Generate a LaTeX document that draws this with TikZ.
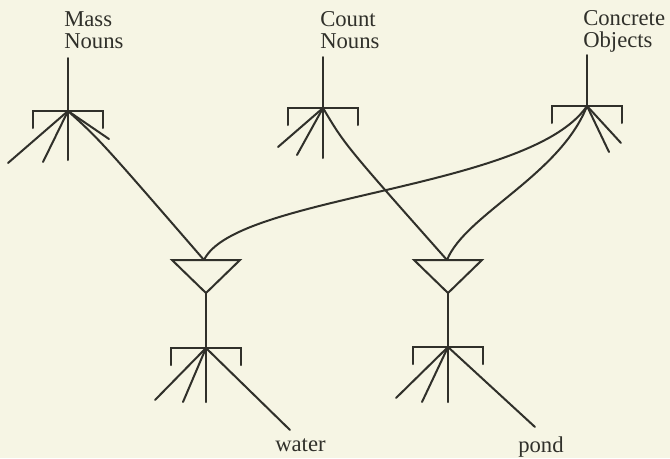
\documentclass[tikz,border=0pt]{standalone}
\usepackage{fontspec}
\setmainfont{Liberation Serif}
\definecolor{Papel}{RGB}{246,245,228}
\definecolor{Tinta}{RGB}{48,48,42}
\tikzset{%
  ln/.style      ={draw=Tinta, line width=1.5pt, line cap=round},
  etiq/.style    ={text=Tinta, align=left, inner sep=0pt, anchor=base west,
                   font=\fontsize{17}{16.5}\selectfont},
  palabra/.style ={text=Tinta, inner sep=0pt, anchor=base west,
                   font=\fontsize{17}{16.5}\selectfont}
}

\begin{document}
\begin{tikzpicture}[x=0.75pt, y=-0.75pt]
  \fill[Papel] (0,0) rectangle (670,458);
  \useasboundingbox (0,0) rectangle (670,458);
  % etiquetas
  \node[etiq] (mLab) at (64,48) {Mass\\Nouns};
  \node[etiq] (cLab) at (320,48) {Count\\Nouns};
  \node[etiq] (oLab) at (583,47) {Concrete\\Objects};
  \node[palabra] (water) at (275,451) {water};
  \node[palabra] (pond) at (518,452) {pond};
  % puntos
  \coordinate (mTop) at (68,58);  \coordinate (mH) at (68,111);
  \coordinate (cTop) at (323,57); \coordinate (cH) at (323,108);
  \coordinate (oTop) at (587,55); \coordinate (oH) at (587,106);
  \coordinate (wT) at (204,260);  \coordinate (wA) at (206,293);
  \coordinate (pT) at (447,260);  \coordinate (pA) at (448,293);
  \coordinate (wH) at (206,348);  \coordinate (pH) at (448,347);
  \draw[ln] (mTop)--(mH); \draw[ln] (cTop)--(cH); \draw[ln] (oTop)--(oH);
  % corchetes
  \foreach \h in {mH,cH,oH,wH,pH}{\draw[ln] (\h) ++(-35,17) -- ++(0,-17) -- ++(70,0) -- ++(0,17);}
  % ramas cortas
  \foreach \x/\y in {8/163,43/162,68/160,109/139}{\draw[ln] (mH)--(\x,\y);}
  \foreach \x/\y in {278/147,297/155,323/158}{\draw[ln] (cH)--(\x,\y);}
  \foreach \x/\y in {609/152,621/143}{\draw[ln] (oH)--(\x,\y);}
  \foreach \x/\y in {155/400,183/402,206/402}{\draw[ln] (wH)--(\x,\y);}
  \foreach \x/\y in {396/398,422/402,448/402}{\draw[ln] (pH)--(\x,\y);}
  \coordinate (wEnd) at (290,430); \coordinate (pEnd) at (535,427);
  \draw[ln] (wH)--(wEnd); \draw[ln] (pH)--(pEnd);
  % triangulos
  \draw[ln, line join=miter] (wA) -- ++(-34,-33) -- ++(68,0) -- cycle;
  \draw[ln, line join=miter] (pA) -- ++(-34,-33) -- ++(68,0) -- cycle;
  \draw[ln] (wA)--(wH); \draw[ln] (pA)--(pH);
  % conexiones largas
  \draw[ln] (mH) .. controls (100,140) .. (wT);
  \draw[ln] (cH) .. controls (345,145) .. (pT);
  \draw[ln] (oH) .. controls (530,190) and (235,195) .. (wT);
  \draw[ln] (oH) .. controls (560,175) and (465,215) .. (pT);
\end{tikzpicture}
\end{document}
